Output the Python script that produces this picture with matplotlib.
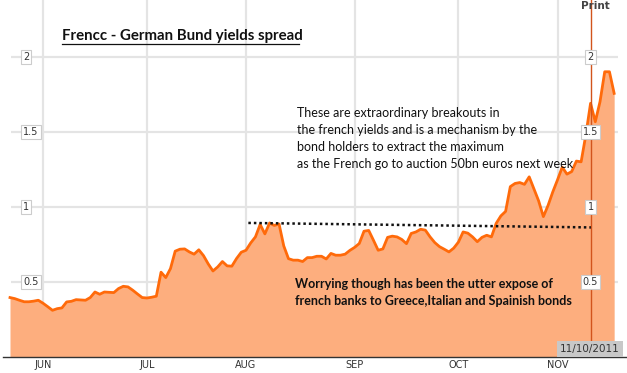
import matplotlib
matplotlib.use("Agg")
import matplotlib.pyplot as plt

# trading-day index -> spread value (France - Germany 10y, %)
SPREAD = [
    0.396, 0.389, 0.378, 0.368, 0.368, 0.372, 0.378, 0.358, 0.335, 0.311,
    0.322, 0.327, 0.367, 0.371, 0.382, 0.380, 0.378, 0.396, 0.433, 0.418,
    0.433, 0.431, 0.429, 0.456, 0.471, 0.467, 0.445, 0.420, 0.396, 0.393,
    0.398, 0.405, 0.565, 0.529, 0.589, 0.705, 0.718, 0.720, 0.700, 0.685,
    0.714, 0.675, 0.620, 0.573, 0.600, 0.636, 0.607, 0.605, 0.656, 0.698,
    0.711, 0.760, 0.800, 0.883, 0.820, 0.893, 0.876, 0.886, 0.740, 0.655,
    0.645, 0.645, 0.636, 0.662, 0.662, 0.671, 0.671, 0.653, 0.690, 0.678,
    0.678, 0.685, 0.710, 0.730, 0.756, 0.838, 0.843, 0.778, 0.711, 0.720,
    0.797, 0.805, 0.800, 0.783, 0.755, 0.823, 0.833, 0.851, 0.845, 0.800,
    0.762, 0.735, 0.718, 0.700, 0.725, 0.765, 0.833, 0.825, 0.800, 0.768,
    0.797, 0.811, 0.800, 0.890, 0.940, 0.970, 1.135, 1.156, 1.162, 1.150,
    1.200, 1.120, 1.040, 0.935, 1.010, 1.100, 1.180, 1.265, 1.218, 1.235,
    1.305, 1.300, 1.480, 1.690, 1.567, 1.700, 1.900, 1.900, 1.756,
]
MONTHS = ["JUN", "JUL", "AUG", "SEP", "OCT", "NOV"]
MONTH_IDX = [7, 29, 50, 73, 95, 116]
Y_TICKS = [0.5, 1, 1.5, 2]
Y_LABELS = ["0.5", "1", "1.5", "2"]
CURSOR_IDX = 123
CURSOR_DATE = "11/10/2011"
RESIST_X = [50.5, 123.5]
RESIST_Y = [0.893, 0.863]

TITLE = "Frencc - German Bund yields spread"
NOTE_TOP = ("These are extraordinary breakouts in\n"
            "the french yields and is a mechanism by the\n"
            "bond holders to extract the maximum\n"
            "as the French go to auction 50bn euros next week")
NOTE_BOTTOM = ("Worrying though has been the utter expose of\n"
               "french banks to Greece,Italian and Spainish bonds")

GRID = "#e4e4e4"
LINE = "#ff6a0a"
FILL = "#fdae7e"
CURSOR = "#d2541c"
TEXT_FONT = ["Lato", "DejaVu Sans"]

W, H = 627, 373
PX_PER_DAY = 4.72
X0_PX = 10.0


def px_to_idx(px):
    return (px - X0_PX) / PX_PER_DAY


def main():
    fig = plt.figure(figsize=(W / 100, H / 100), dpi=100)
    ax = fig.add_axes([0, 16 / H, 1, 357 / H])
    ax.set_xlim(px_to_idx(0), px_to_idx(W))
    ax.set_ylim(0, 356.7 / 150)

    xs = list(range(len(SPREAD)))
    for m in MONTH_IDX:
        ax.axvline(m, color=GRID, lw=1.6, zorder=0)
    ax.hlines(Y_TICKS, px_to_idx(11), px_to_idx(618), color=GRID, lw=1.6, zorder=0)

    ax.fill_between(xs, SPREAD, 0, color=FILL, lw=0, zorder=1)
    ax.plot(xs, SPREAD, color=LINE, lw=2.0, solid_joinstyle="round", zorder=2)

    ax.plot(RESIST_X, RESIST_Y, color="#111111", lw=1.8, ls=(0, (1, 1.2)), zorder=3)
    ax.axvline(CURSOR_IDX, color=CURSOR, lw=1.0, zorder=3)

    box = dict(facecolor="white", edgecolor="#cccccc", lw=0.8, pad=1.6)
    for v, lab in zip(Y_TICKS, Y_LABELS):
        ax.text(px_to_idx(23.0), v, lab, fontsize=7, color="#333333",
                ha="left", va="center", bbox=box, zorder=4, family="DejaVu Sans")
        ax.text(CURSOR_IDX, v, lab, fontsize=7, color="#333333",
                ha="center", va="center", bbox=box, zorder=4, family="DejaVu Sans")

    ax.text(px_to_idx(589.8), 0.056, CURSOR_DATE, fontsize=7.5, color="#333333",
            ha="center", va="center", family="DejaVu Sans", zorder=4,
            bbox=dict(facecolor="#c8c8c8", edgecolor="none", pad=2.2))
    # "Print" link sits at the very top edge of the widget
    ax.text(px_to_idx(595), 1.0 - 1.0 / 357, "Print", transform=ax.get_xaxis_transform(),
            fontsize=7.5, fontweight="bold", color="#444444", ha="center",
            va="top", family="DejaVu Sans")

    ax.text(px_to_idx(61.5), 1.0 - 36.0 / 357, TITLE, transform=ax.get_xaxis_transform(),
            fontsize=10.8, fontweight="bold", color="#111111", ha="left",
            va="center", family=TEXT_FONT)
    ax.plot([px_to_idx(61.5), px_to_idx(298.5)], [(356.7 - 43.5) / 150] * 2,
            color="#111111", lw=0.9)

    ax.text(px_to_idx(297), (356.7 - 107) / 150, NOTE_TOP, fontsize=9.0,
            color="#111111", ha="left", va="top", linespacing=1.5,
            family=TEXT_FONT, zorder=4)
    ax.text(px_to_idx(295), (356.7 - 278) / 150, NOTE_BOTTOM, fontsize=9.0,
            fontweight="bold", color="#111111", ha="left", va="top",
            linespacing=1.5, family=TEXT_FONT, zorder=4)

    for s in ["top", "left", "right"]:
        ax.spines[s].set_visible(False)
    ax.spines["bottom"].set_color("#333333")
    ax.spines["bottom"].set_linewidth(1.0)
    ax.spines["bottom"].set_bounds(px_to_idx(3), px_to_idx(W))
    ax.set_yticks([])
    ax.set_xticks(MONTH_IDX)
    ax.set_xticklabels(MONTHS)
    ax.tick_params(axis="x", length=0, pad=2.5, labelsize=7, labelcolor="#333333")

    fig.savefig("out.png", dpi=100)
    plt.close(fig)


if __name__ == "__main__":
    main()
